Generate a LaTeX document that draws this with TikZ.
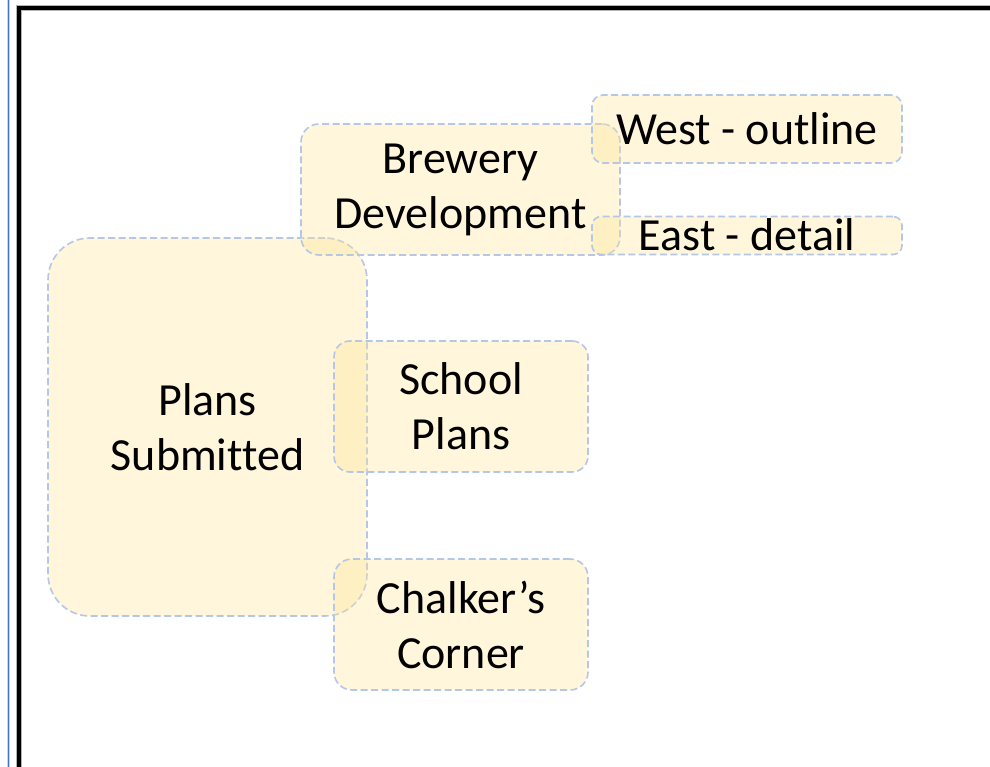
\documentclass[tikz,border=0pt]{standalone}
\usepackage{fontspec}
\setmainfont{Carlito}[Ligatures=NoCommon]
\definecolor{boxfill}{HTML}{FFE699}
\definecolor{boxline}{HTML}{B4C7E7}
\definecolor{sideblue}{HTML}{4472C4}
\definecolor{sidelight}{HTML}{C5D5EE}
\begin{document}
\begin{tikzpicture}[x=1pt,y=-1pt,
  card/.style={rectangle, draw=boxline, line width=1.6pt, dash pattern=on 7pt off 3.5pt,
    fill=boxfill, fill opacity=0.35, text opacity=1, inner sep=0pt, align=center,
    font=\fontsize{46}{55}\selectfont},
]
\useasboundingbox (0,0) rectangle (990,767);
\fill[white] (0,0) rectangle (990,767);
% side lines and frame
\draw[sidelight, line width=3pt] (8.5,0) -- (8.5,767);
\draw[sideblue, line width=1.3pt] (8.5,0) -- (8.5,767);
\draw[gray!60, line width=5.5pt] (19,790) -- (19,8) -- (1010,8);
\draw[black, line width=4pt] (19,790) -- (19,8) -- (1010,8);
% boxes
\node[card, rounded corners=42pt, minimum width=319pt, minimum height=378pt] (plans) at (207.5,427) {Plans\\Submitted};
\node[card, rounded corners=18pt, minimum width=319pt, minimum height=131pt] (brew) at (460.5,189.5) {Brewery\\Development};
\node[card, rounded corners=16pt, minimum width=254pt, minimum height=131pt] (school) at (461,406.5) {School\\Plans};
\node[card, rounded corners=18pt, minimum width=254pt, minimum height=131pt] (chalk) at (461,624.5) {Chalker’s\\Corner};
\node[card, rounded corners=11pt, minimum width=310pt, minimum height=68pt] (west) at (747,129) {West - outline};
\node[card, rounded corners=9pt, minimum width=310pt, minimum height=38pt, text height=0pt, text depth=0pt] (east) at (747,235.5) {\raisebox{-0.33em}[0pt][0pt]{East - detail}};
\end{tikzpicture}
\end{document}
